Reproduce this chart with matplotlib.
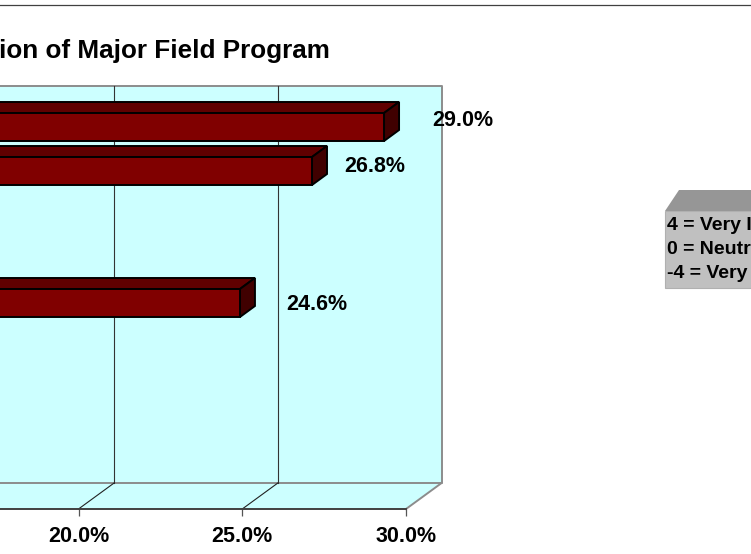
import matplotlib
matplotlib.use("Agg")
import matplotlib.pyplot as plt
from matplotlib.patches import Polygon

plt.rcParams['font.family'] = ['Liberation Sans', 'DejaVu Sans']
plt.rcParams['font.weight'] = 'bold'

W, H = 751, 554

rows = [0, 1, 4]
values = [29.0, 26.8, 24.6]
tick_values = [20.0, 25.0, 30.0]
title_text = "ion of Major Field Program"
legend_lines = ["4 = Very I", "0 = Neutr", "-4 = Very"]

# axes covers the whole figure, scale picked so the front plane lands right
px_per_unit = 32.75
px_per_row = 44.0
x0 = 30 - 406 / px_per_unit
x1 = 30 + (W - 406) / px_per_unit
y_top = -127 / px_per_row
y_bot = (H - 127) / px_per_row

depth_x = 35.6 / px_per_unit
depth_y = 26 / px_per_row
bar_shift = 10.8 / px_per_unit
bar_dx = 15 / px_per_unit
bar_dy = 11 / px_per_row
bar_h = 28 / px_per_row
wall_top = (86 - 127) / px_per_row
floor_front = (509 - 127) / px_per_row
wall_bot = floor_front - depth_y


def px(x, y):
    return (x / W, 1 - y / H)


fig = plt.figure(figsize=(W / 100, H / 100), dpi=100)
ax = fig.add_axes([0, 0, 1, 1])
ax.set_xlim(x0, x1)
ax.set_ylim(y_bot, y_top)
ax.patch.set_visible(False)

# walls
xr = 30 + depth_x
ax.fill([x0, xr, xr, x0], [wall_top, wall_top, wall_bot, wall_bot], fc='#CCFFFF', ec='none', zorder=1)
ax.fill([x0, 30, xr, x0], [floor_front, floor_front, wall_bot, wall_bot], fc='#CCFFFF', ec='none', zorder=1)
ax.plot([x0, xr, xr, x0], [wall_top, wall_top, wall_bot, wall_bot], color='#8C8C8C', lw=1.4, zorder=2)
ax.plot([30, xr], [floor_front, wall_bot], color='#8C8C8C', lw=1.4, zorder=2)

# gridlines
for t in tick_values[:2]:
    ax.plot([t + depth_x, t + depth_x], [wall_top, wall_bot], color='#333333', lw=0.8, zorder=2)
    ax.plot([t, t + depth_x], [floor_front, wall_bot], color='#222222', lw=0.8, zorder=2)

# bars
ends = [v + bar_shift for v in values]
ax.barh(rows, ends, height=bar_h, color='#800000', edgecolor='black', linewidth=1.4, zorder=4)
for r, e in zip(rows, ends):
    top = r - bar_h / 2
    bot = r + bar_h / 2
    ax.fill([x0 - 1, e, e + bar_dx, x0 - 1], [top, top, top - bar_dy, top - bar_dy],
            fc='#600000', ec='black', lw=1.4, zorder=3)
    ax.fill([e, e + bar_dx, e + bar_dx, e], [top, top - bar_dy, bot - bar_dy, bot],
            fc='#400000', ec='black', lw=1.4, zorder=3)

# value labels, nudged the way the original sits
label_dx = [48, 32, 46]
label_dy = [-6.5, -5, 1]
for r, e, v, dx, dy in zip(rows, ends, values, label_dx, label_dy):
    ax.text(e + dx / px_per_unit, r + dy / px_per_row, "%.1f%%" % v, ha='left', va='center',
            fontsize=15.5, fontweight='bold', color='black', zorder=6)

# front axis
for s in ['top', 'left', 'right']:
    ax.spines[s].set_visible(False)
ax.spines['bottom'].set_position(('data', floor_front))
ax.spines['bottom'].set_bounds(x0, 30)
ax.spines['bottom'].set_color('#404040')
ax.spines['bottom'].set_linewidth(1.4)
ax.set_xticks(tick_values)
ax.set_xticklabels(["%.1f%%" % t for t in tick_values], fontsize=15.5, fontweight='bold')
ax.tick_params(axis='x', length=5, width=0.9, color='#555555', pad=7)
ax.set_yticks([])

fig.add_artist(plt.Line2D([0, 1], [1 - 4.5 / H, 1 - 4.5 / H], color='#404040', lw=0.9))
fig.text(*px(-1, 51), title_text, fontsize=18.8, fontweight='bold', ha='left', va='center')

# legend box
fig.add_artist(Polygon([px(665, 211), px(679, 190), px(751, 190), px(751, 211)],
                       closed=True, fc='#969696', ec='none', transform=fig.transFigure))
fig.add_artist(Polygon([px(665, 211), px(751, 211), px(751, 288), px(665, 288)],
                       closed=True, fc='#C0C0C0', ec='#B0B0B0', lw=0.8, transform=fig.transFigure))
for line, y in zip(legend_lines, [226, 250, 274]):
    fig.text(*px(667, y), line, fontsize=14, fontweight='bold', ha='left', va='center')

fig.savefig("out.png", dpi=100)
